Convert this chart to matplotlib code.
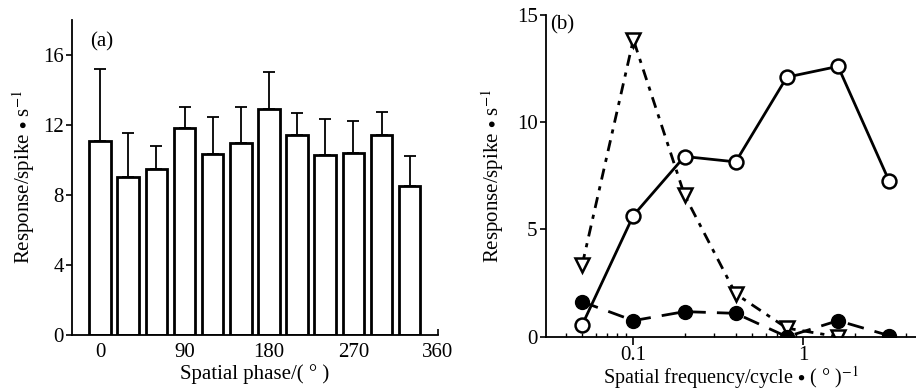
import matplotlib
matplotlib.use("Agg")
import matplotlib.pyplot as plt
import numpy as np

plt.rcParams['font.family'] = ['Liberation Serif', 'DejaVu Serif']
plt.rcParams['mathtext.fontset'] = 'stix'

# Panel (a) data
phase = [0, 30, 60, 90, 120, 150, 180, 210, 240, 270, 300, 330]
resp_a = [11.1, 9.05, 9.5, 11.8, 10.35, 10.95, 12.9, 11.4, 10.3, 10.4, 11.4, 8.5]
err_a = [4.1, 2.5, 1.3, 1.25, 2.1, 2.05, 2.1, 1.3, 2.05, 1.8, 1.35, 1.75]
xticks_a = [0, 90, 180, 270, 360]
yticks_a = [0, 4, 8, 12, 16]

# Panel (b) data
sf = [0.05, 0.1, 0.2, 0.4, 0.8, 1.6, 3.2]
open_circ = [0.55, 5.65, 8.4, 8.15, 12.1, 12.6, 7.25]
filled_circ = [1.63, 0.75, 1.17, 1.09, 0.0, 0.75, 0.05]
sf_tri = [0.05, 0.1, 0.2, 0.4, 0.8, 1.6]
tri = [3.35, 13.85, 6.6, 2.0, 0.4, 0.0]
yticks_b = [0, 5, 10, 15]

fig = plt.figure(figsize=(9.16, 3.92), dpi=100)

ax1 = fig.add_axes([0.0786, 0.1454, 0.3994, 0.8036])
ax1.bar(phase, resp_a, width=23, color='white', edgecolor='black', linewidth=2.0, zorder=2)
ax1.errorbar(phase, resp_a, yerr=[np.zeros(len(err_a)), err_a], fmt='none',
             ecolor='black', elinewidth=1.3, capsize=4, capthick=1.3, zorder=1)
ax1.set_xlim(-30, 360)
ax1.set_ylim(0, 18)
ax1.set_xticks(xticks_a)
ax1.set_yticks(yticks_a)
ax1.spines['top'].set_visible(False)
ax1.spines['right'].set_visible(False)
for s in ['left', 'bottom']:
    ax1.spines[s].set_linewidth(1.3)
ax1.tick_params(axis='x', direction='in', length=4, width=1.2, labelsize=15, pad=6)
ax1.tick_params(axis='y', direction='out', length=4, width=1.2, labelsize=15, pad=2)
ax1.set_xlabel('Spatial phase/( ° )', fontsize=15, labelpad=1)
ax1.set_ylabel(r'Response/spike $\bullet$ s$^{-1}$', fontsize=15, labelpad=4)
ax1.text(0.05, 0.96, '(a)', transform=ax1.transAxes, fontsize=15, va='top', ha='left')

ax2 = fig.add_axes([0.596, 0.141, 0.404, 0.821])
ax2.set_xscale('log')
ax2.plot(sf, open_circ, '-', color='black', lw=2.0, marker='o', ms=10,
         mfc='white', mec='black', mew=1.8, zorder=3)
ax2.plot(sf, filled_circ, color='black', lw=2.0, dashes=(6, 4), marker='o', ms=10,
         mfc='black', mec='black', zorder=4)
ax2.plot(sf_tri, tri, color='black', lw=2.0, dashes=(4, 2.5, 1.5, 2.5), marker='v', ms=10,
         mfc='white', mec='black', mew=1.8, zorder=2)
ax2.set_xlim(0.0306, 4.6)
ax2.set_ylim(0, 15)
ax2.set_yticks(yticks_b)
ax2.set_xticks([0.1, 1])
ax2.set_xticklabels(['0.1', '1'])
ax2.spines['top'].set_visible(False)
ax2.spines['right'].set_visible(False)
for s in ['left', 'bottom']:
    ax2.spines[s].set_linewidth(1.3)
ax2.tick_params(axis='x', which='major', direction='out', length=6, width=1.2, labelsize=15, pad=1)
ax2.tick_params(axis='x', which='minor', direction='in', length=3, width=1.0)
ax2.tick_params(axis='y', direction='out', length=4, width=1.2, labelsize=15, pad=2)
ax2.set_xlabel(r'Spatial frequency/cycle $\bullet$ ( ° )$^{-1}$', fontsize=14.5, labelpad=-1)
ax2.set_ylabel(r'Response/spike $\bullet$ s$^{-1}$', fontsize=15, labelpad=8)
ax2.text(0.01, 1.0, '(b)', transform=ax2.transAxes, fontsize=15, va='top', ha='left')

fig.savefig('out.png', dpi=100)
